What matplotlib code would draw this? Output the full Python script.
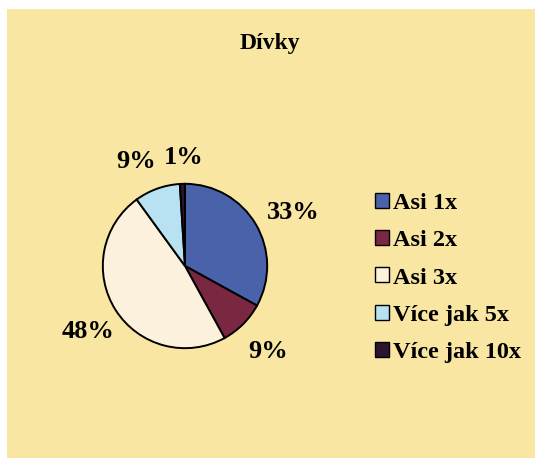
import matplotlib.pyplot as plt
from matplotlib.patches import Rectangle

categories = ["Asi 1x", "Asi 2x", "Asi 3x", "Více jak 5x", "Více jak 10x"]
shares = [33, 9, 48, 9, 1]
colors = ["#4a62aa", "#7a2842", "#fbf1dc", "#b8e2f2", "#2c1430"]
title = "Dívky"

plt.rcParams["font.family"] = ["Liberation Serif", "DejaVu Serif"]
plt.rcParams["font.weight"] = "bold"

W, H = 535, 458
fig = plt.figure(figsize=(W / 100, H / 100), dpi=100)
fig.patch.set_facecolor("white")
# yellow sheet behind the chart
fig.patches.append(Rectangle((7 / W, 0), 1, 1 - 9 / H, transform=fig.transFigure,
                             facecolor="#f9e6a2", edgecolor="none", zorder=-5))

fig.text(270 / W, 1 - 44 / H, title, ha="center", va="center", fontsize=17,
         fontweight="bold")

# pie centre (185, 266), radius 83 px
r = 83
ax = fig.add_axes([(185 - r) / W, 1 - (266 + r) / H, 2 * r / W, 2 * r / H])
ax.patch.set_visible(False)
wedges, _ = ax.pie(shares, colors=colors, startangle=90, counterclock=False,
                   wedgeprops=dict(edgecolor="black", linewidth=1.4))
ax.set_aspect("equal")
ax.set_xlim(-1.01, 1.01)
ax.set_ylim(-1.01, 1.01)

# percentage labels placed outside the pie
label_px = [(293, 213), (268, 352), (88, 332), (136, 162), (184, 158)]
for v, (x, y) in zip(shares, label_px):
    fig.text(x / W, 1 - y / H, f"{v}%", ha="center", va="center", fontsize=19,
             fontweight="bold")

leg = fig.legend(wedges, categories, loc="upper left",
                 bbox_to_anchor=(375 / W, 1 - 193 / H), frameon=False,
                 fontsize=17.5, handlelength=0.58, handleheight=0.58,
                 handletextpad=0.16, labelspacing=0.66, borderaxespad=0,
                 borderpad=0)
for h in leg.legend_handles:
    h.set_linewidth(1.0)

fig.savefig("out.png", dpi=100)
